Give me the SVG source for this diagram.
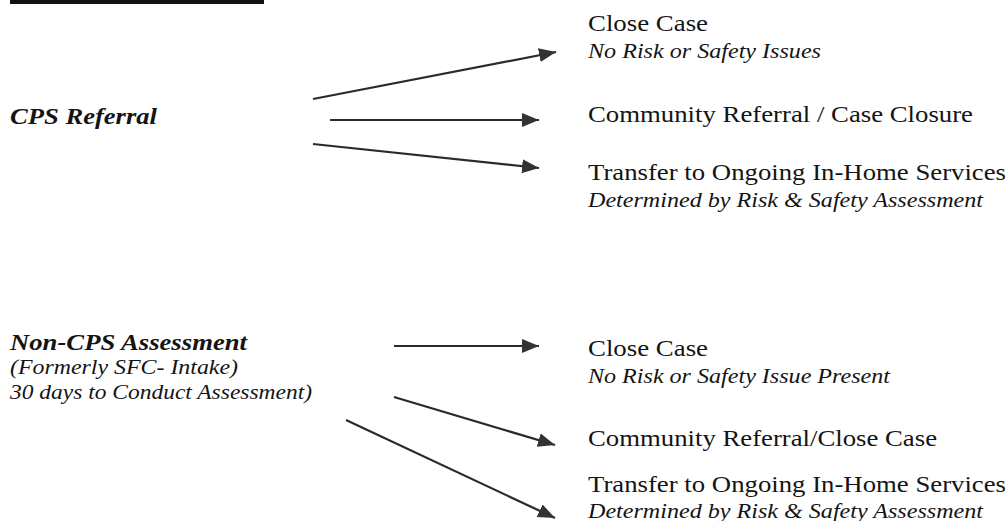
<svg xmlns="http://www.w3.org/2000/svg" width="1008" height="521" viewBox="0 0 1008 521">
<defs>
<style>
.t{font-family:"Liberation Serif","Times New Roman",Tinos,serif;fill:#141414;font-size:24px}
.i{font-style:italic;font-size:21px}
.b{font-weight:bold;font-style:italic;font-size:23px}
.c{stroke:#2a2a2a;stroke-width:2.2;fill:none;marker-end:url(#ah)}
</style>
<marker id="ah" markerUnits="userSpaceOnUse" markerWidth="20" markerHeight="16" refX="17" refY="7" orient="auto">
<polygon points="0,0 17,7 0,14" fill="#333"/>
</marker>
</defs>
<rect width="1008" height="521" fill="#fff"/>
<rect x="10" y="0" width="254" height="4" fill="#111"/>
<g id="cps">
<text class="t b" x="10" y="124" textLength="147" lengthAdjust="spacingAndGlyphs">CPS Referral</text>
</g>
<g id="noncps">
<text class="t b" x="10" y="350" textLength="237" lengthAdjust="spacingAndGlyphs">Non-CPS Assessment</text>
<text class="t i" x="10" y="374" textLength="228" lengthAdjust="spacingAndGlyphs">(Formerly SFC- Intake)</text>
<text class="t i" x="10" y="399" textLength="302" lengthAdjust="spacingAndGlyphs">30 days to Conduct Assessment)</text>
</g>
<g id="close1">
<text class="t" x="588" y="31" textLength="120" lengthAdjust="spacingAndGlyphs">Close Case</text>
<text class="t i" x="588" y="58" textLength="233" lengthAdjust="spacingAndGlyphs">No Risk or Safety Issues</text>
</g>
<g id="community1">
<text class="t" x="588" y="122" textLength="385" lengthAdjust="spacingAndGlyphs">Community Referral / Case Closure</text>
</g>
<g id="transfer1">
<text class="t" x="588" y="180" textLength="418" lengthAdjust="spacingAndGlyphs">Transfer to Ongoing In-Home Services</text>
<text class="t i" x="588" y="207" textLength="395" lengthAdjust="spacingAndGlyphs">Determined by Risk &amp; Safety Assessment</text>
</g>
<g id="close2">
<text class="t" x="588" y="356" textLength="120" lengthAdjust="spacingAndGlyphs">Close Case</text>
<text class="t i" x="588" y="383" textLength="302" lengthAdjust="spacingAndGlyphs">No Risk or Safety Issue Present</text>
</g>
<g id="community2">
<text class="t" x="588" y="446" textLength="349" lengthAdjust="spacingAndGlyphs">Community Referral/Close Case</text>
</g>
<g id="transfer2">
<text class="t" x="588" y="492" textLength="418" lengthAdjust="spacingAndGlyphs">Transfer to Ongoing In-Home Services</text>
<text class="t i" x="588" y="518" textLength="395" lengthAdjust="spacingAndGlyphs">Determined by Risk &amp; Safety Assessment</text>
</g>
<g id="connectors">
<path class="c" d="M313,99 L556,52"/>
<path class="c" d="M330,120 L539,120"/>
<path class="c" d="M313,144 L539,168"/>
<path class="c" d="M394,346 L539,346"/>
<path class="c" d="M394,397 L555,445"/>
<path class="c" d="M346,420 L555,518"/>
</g>
</svg>
